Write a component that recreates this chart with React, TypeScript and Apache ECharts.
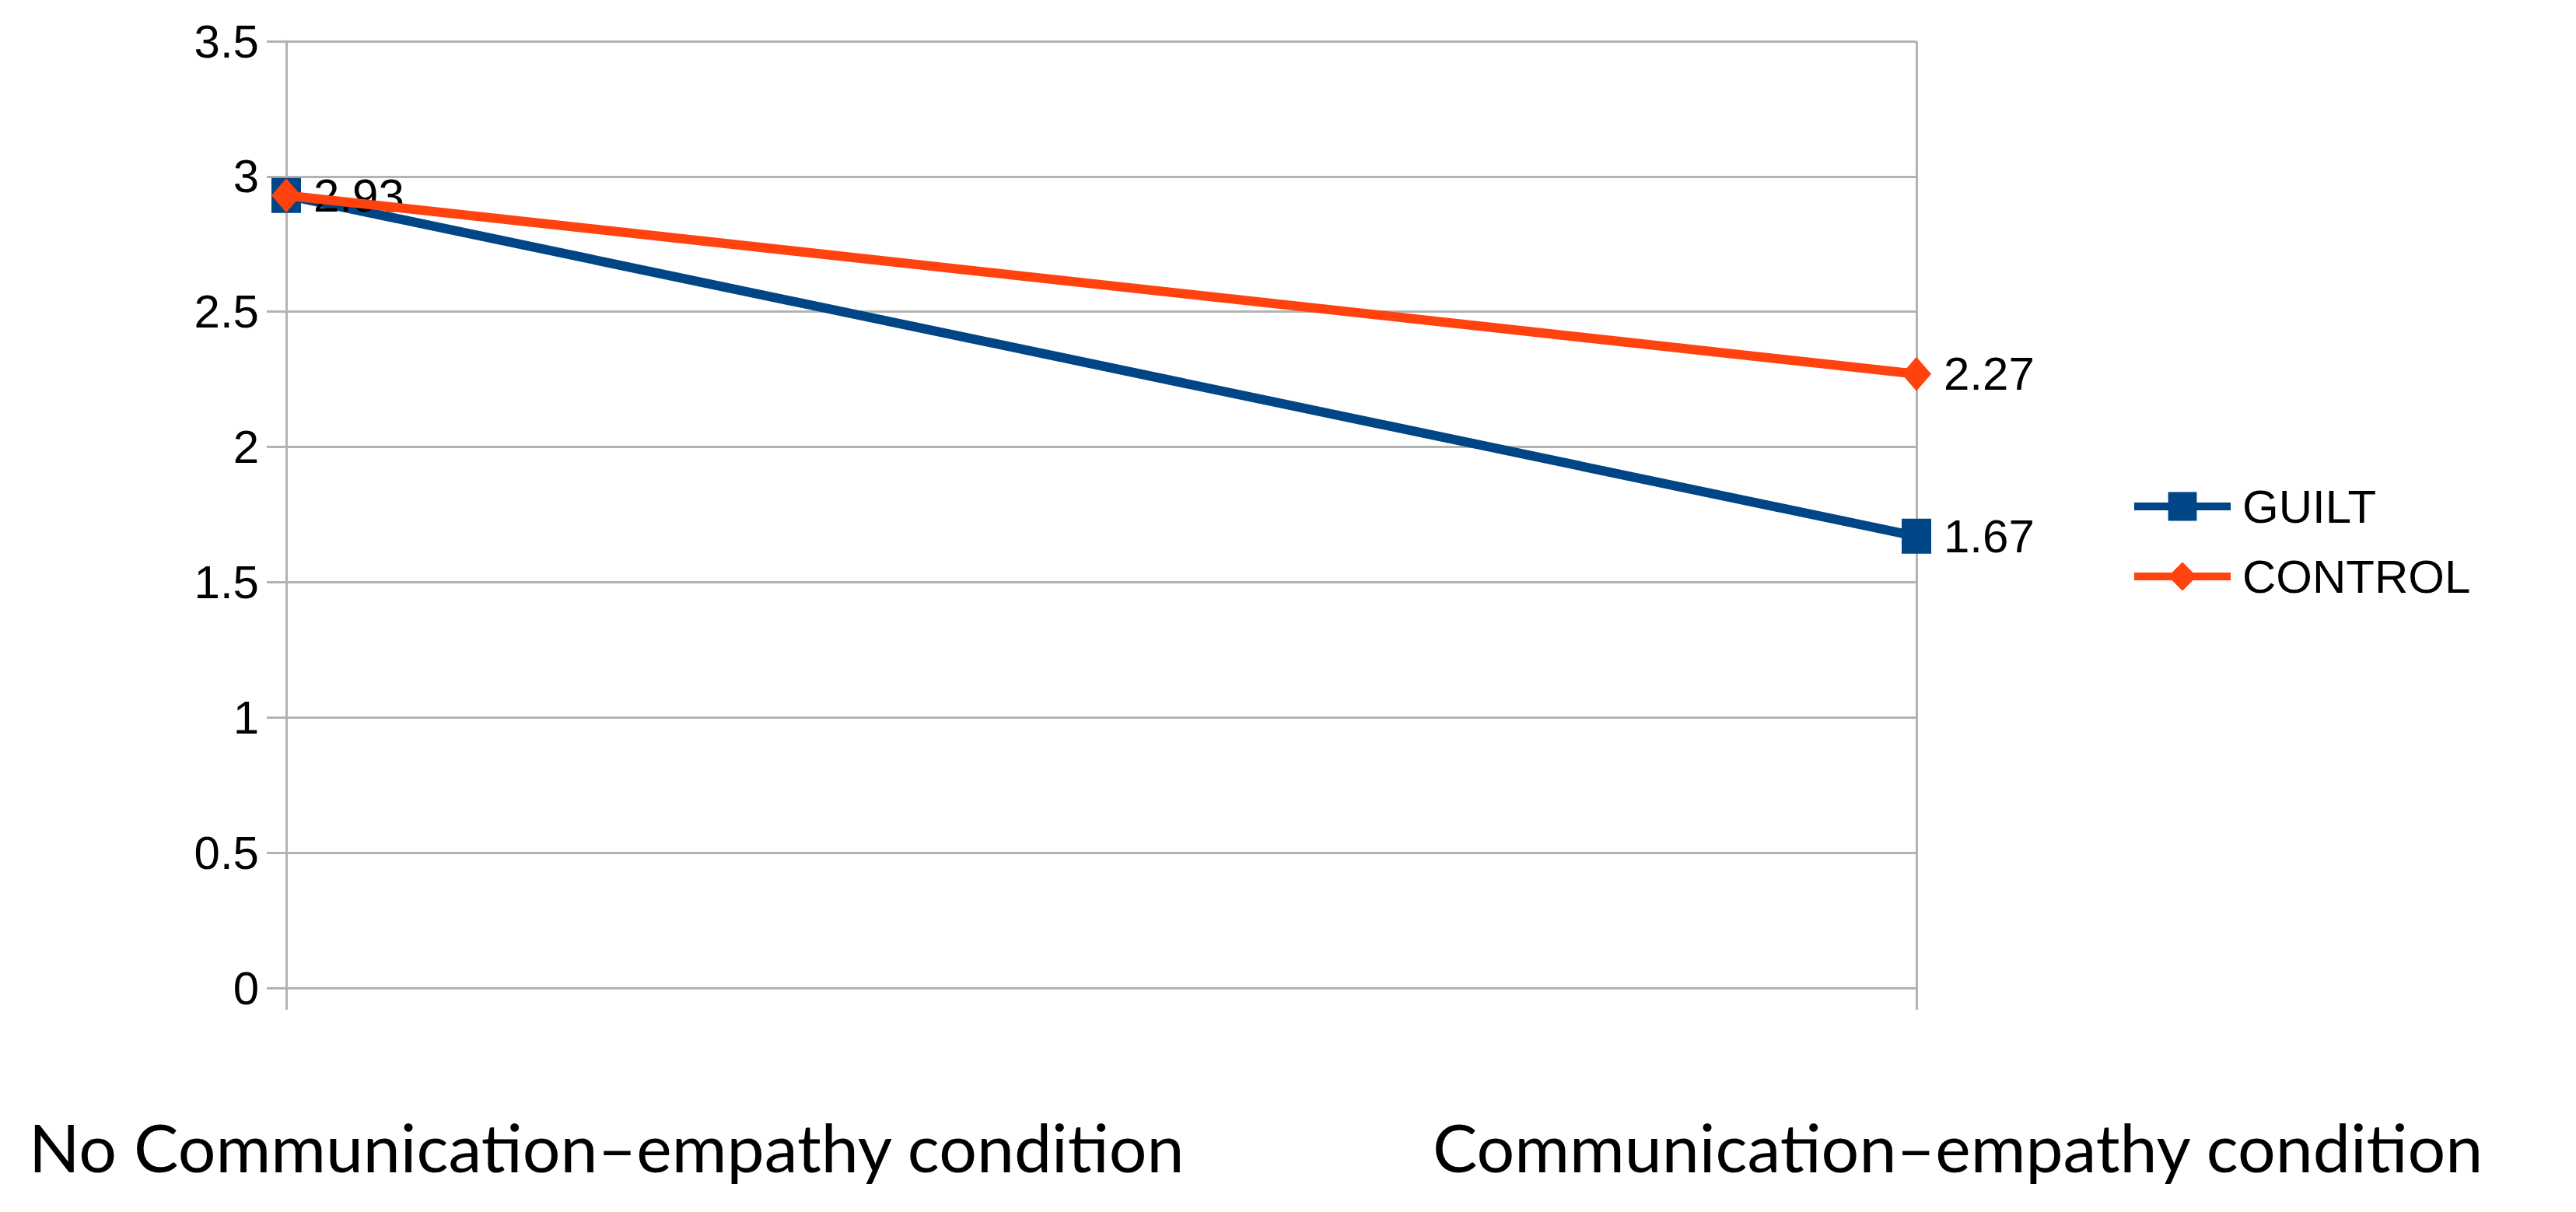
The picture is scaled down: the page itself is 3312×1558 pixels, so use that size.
import React, { useEffect, useRef } from "react";
import * as echarts from "echarts";

const categories = ["No Communication\u2013empathy condition", "Communication\u2013empathy condition"];
const seriesNames = ["GUILT", "CONTROL"];
const guiltValues = [2.93, 1.67];
const controlValues = [2.93, 2.27];
const yTicks = [0, 0.5, 1, 1.5, 2, 2.5, 3, 3.5];

const W = 3312;
const H = 1558;
const GRID_LEFT = 368;
const GRID_RIGHT_X = 2464;
const GRID_TOP = 53;
const GRID_BOTTOM_Y = 1270;

const BLUE = "#004586";
const ORANGE = "#ff420e";
const GRIDC = "#b3b3b3";
const NUMFONT = "'Liberation Sans Narrow', 'Liberation Sans', Arial, sans-serif";
const CATFONT = "Lato, 'Open Sans', sans-serif";

export default function App() {
  const ref = useRef<HTMLDivElement>(null);
  useEffect(() => {
    if (!ref.current) return;
    const chart = echarts.init(ref.current, undefined, { renderer: "svg" });
    const labelStyle = {
      show: true,
      position: "right",
      distance: 16,
      fontSize: 60,
      fontFamily: NUMFONT,
      color: "#000",
      formatter: (p: any) => String(p.value),
    };
    chart.setOption({
      animation: false,
      backgroundColor: "#fff",
      grid: {
        left: GRID_LEFT,
        top: GRID_TOP,
        width: GRID_RIGHT_X - GRID_LEFT,
        height: GRID_BOTTOM_Y - GRID_TOP,
        containLabel: false,
      },
      xAxis: {
        type: "category",
        data: categories,
        boundaryGap: false,
        axisLine: { show: true, lineStyle: { color: GRIDC, width: 3 } },
        axisTick: { show: true, length: 28, lineStyle: { color: GRIDC, width: 3 } },
        axisLabel: { show: false },
        splitLine: { show: true, lineStyle: { color: GRIDC, width: 3 } },
      },
      yAxis: {
        type: "value",
        min: yTicks[0],
        max: yTicks[yTicks.length - 1],
        interval: 0.5,
        axisLine: { show: true, lineStyle: { color: GRIDC, width: 3 } },
        axisTick: { show: true, length: 25, lineStyle: { color: GRIDC, width: 3 } },
        axisLabel: { margin: 35, fontSize: 60, fontFamily: NUMFONT, color: "#000" },
        splitLine: { show: true, lineStyle: { color: GRIDC, width: 3 } },
      },
      legend: {
        orient: "vertical",
        left: 2734,
        top: 616,
        itemWidth: 124,
        itemHeight: 46,
        itemGap: 30,
        lineStyle: { width: 10 },
        textStyle: { fontSize: 60, fontFamily: NUMFONT, color: "#000", padding: [0, 0, 0, 10] },
        data: seriesNames,
      },
      series: [
        {
          name: seriesNames[0],
          type: "line",
          data: guiltValues,
          color: BLUE,
          symbol: "rect",
          symbolSize: [38, 45],
          lineStyle: { width: 12, color: BLUE },
          itemStyle: { color: BLUE },
          label: labelStyle,
          z: 2,
        },
        {
          name: seriesNames[1],
          type: "line",
          data: controlValues.map((v, i) => ({ value: v, label: { show: i !== 0 } })),
          color: ORANGE,
          symbol: "diamond",
          symbolSize: [38, 44],
          lineStyle: { width: 12, color: ORANGE },
          itemStyle: { color: ORANGE },
          label: labelStyle,
          z: 3,
        },
      ],
      graphic: [
        {
          type: "text",
          left: 37,
          top: 1430,
          style: { text: categories[0], fontSize: 86, fontFamily: CATFONT, fill: "#000" },
        },
        {
          type: "text",
          left: 1842,
          top: 1430,
          style: { text: categories[1], fontSize: 86, fontFamily: CATFONT, fill: "#000" },
        },
      ],
    });
    return () => chart.dispose();
  }, []);
  return (
    <div
      ref={ref}
      style={{ position: "absolute", left: 0, top: 0, width: W, height: H, background: "#fff" }}
    />
  );
}
